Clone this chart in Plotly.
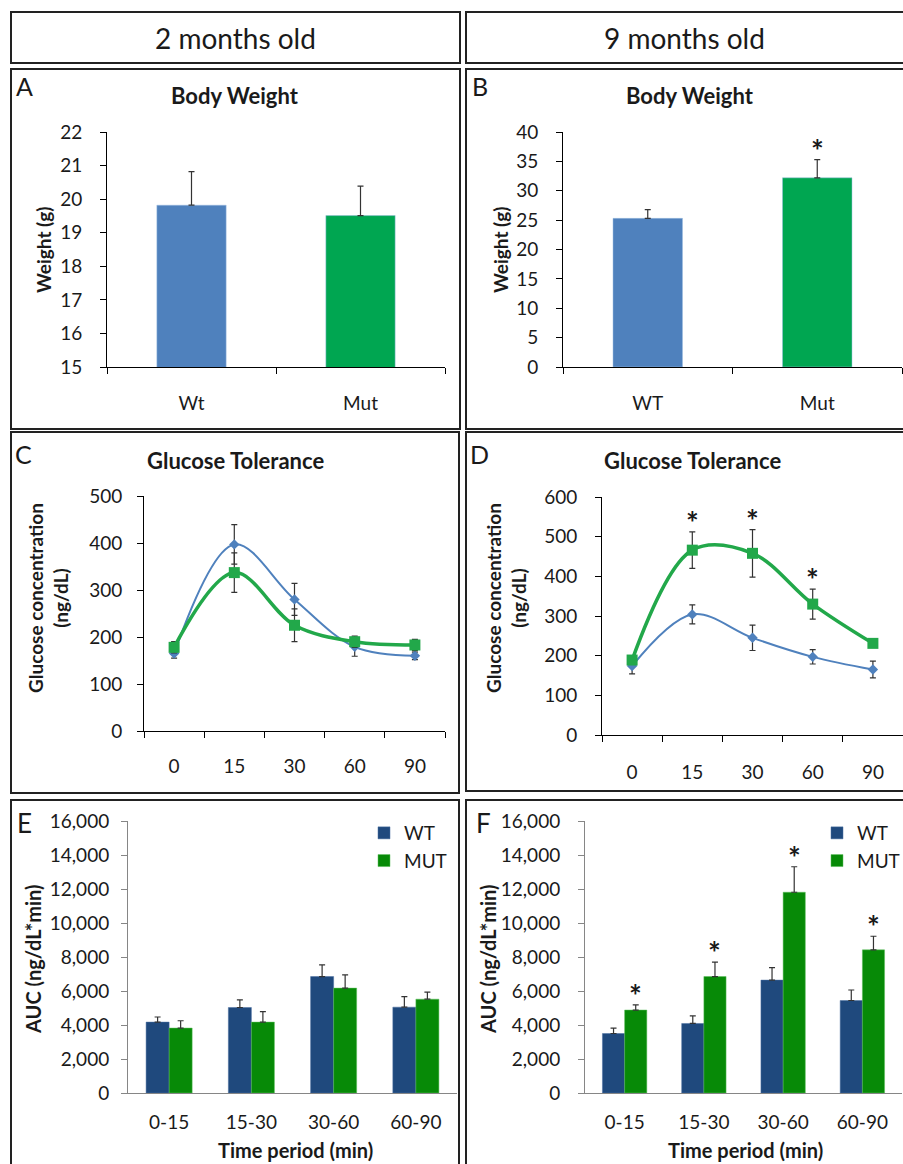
import plotly.graph_objects as go

# ---------------- data ----------------
groups_2mo = ["Wt", "Mut"]
weight_2mo = [19.82, 19.51]
weight_2mo_err = [1.0, 0.88]

groups_9mo = ["WT", "Mut"]
weight_9mo = [25.3, 32.2]
weight_9mo_err = [1.5, 3.1]

time_points = ["0", "15", "30", "60", "90"]
gtt_2mo_wt = [165, 397, 280, 179, 160]
gtt_2mo_wt_err = [10, 42, 34, 20, 8]
gtt_2mo_mut = [178, 337, 225, 190, 183]
gtt_2mo_mut_err = [12, 42, 35, 12, 12]
gtt_9mo_wt = [174, 304, 245, 197, 165]
gtt_9mo_wt_err = [20, 24, 32, 18, 21]
gtt_9mo_mut = [189, 466, 458, 330, 231]
gtt_9mo_mut_err = [10, 46, 60, 38, 8]
gtt_9mo_signif = [1, 2, 3]  # indices of time points marked with *

periods = ["0-15", "15-30", "30-60", "60-90"]
auc_2mo_wt = [4170, 5030, 6850, 5050]
auc_2mo_wt_err = [300, 450, 690, 620]
auc_2mo_mut = [3820, 4170, 6170, 5520]
auc_2mo_mut_err = [430, 620, 780, 410]
auc_9mo_wt = [3500, 4090, 6640, 5440]
auc_9mo_wt_err = [320, 450, 740, 620]
auc_9mo_mut = [4880, 6850, 11810, 8420]
auc_9mo_mut_err = [300, 850, 1500, 800]

# ---------------- styling ----------------
W, H = 903, 1164
FONT = "Lato"
TXT = "#1a1a1a"
BLUE_BW, GREEN_BW = "#4F81BD", "#00A651"
BLUE_L, GREEN_L = "#4F81BD", "#22A84A"
BLUE_AUC, GREEN_AUC = "#1F497D", "#078A07"
ERR = "#333333"


def xp(px):
    return px / W


def yp(py):
    return 1 - py / H


fig = go.Figure()

# ---- A: body weight 2 months
fig.add_trace(go.Bar(x=groups_2mo, y=weight_2mo, width=0.41, offset=-0.205,
                     marker=dict(color=[BLUE_BW, GREEN_BW], line=dict(color="#9DBCE0", width=0.5)),
                     error_y=dict(type="data", array=weight_2mo_err, arrayminus=[0, 0], symmetric=False,
                                  color=ERR, thickness=1.2, width=3),
                     showlegend=False, xaxis="x", yaxis="y"))
# ---- B: body weight 9 months
fig.add_trace(go.Bar(x=groups_9mo, y=weight_9mo, width=0.41, offset=-0.205,
                     marker=dict(color=[BLUE_BW, GREEN_BW], line=dict(color="#9DBCE0", width=0.5)),
                     error_y=dict(type="data", array=weight_9mo_err, arrayminus=[0, 0], symmetric=False,
                                  color=ERR, thickness=1.2, width=3),
                     showlegend=False, xaxis="x2", yaxis="y2"))

# ---- C / D: glucose tolerance
for (wt, wte, mut, mute, xa, ya) in [
    (gtt_2mo_wt, gtt_2mo_wt_err, gtt_2mo_mut, gtt_2mo_mut_err, "x3", "y3"),
    (gtt_9mo_wt, gtt_9mo_wt_err, gtt_9mo_mut, gtt_9mo_mut_err, "x4", "y4"),
]:
    fig.add_trace(go.Scatter(x=time_points, y=wt, mode="lines+markers",
                             line=dict(color=BLUE_L, width=2, shape="spline"),
                             marker=dict(symbol="diamond", size=8, color=BLUE_L),
                             error_y=dict(type="data", array=wte, color=ERR, thickness=1.2, width=3),
                             showlegend=False, xaxis=xa, yaxis=ya))
    fig.add_trace(go.Scatter(x=time_points, y=mut, mode="lines+markers",
                             line=dict(color=GREEN_L, width=3.5, shape="spline"),
                             marker=dict(symbol="square", size=11, color=GREEN_L),
                             error_y=dict(type="data", array=mute, color=ERR, thickness=1.2, width=3),
                             showlegend=False, xaxis=xa, yaxis=ya))

# ---- E / F: AUC
for (wt, wte, mut, mute, xa, ya, lg) in [
    (auc_2mo_wt, auc_2mo_wt_err, auc_2mo_mut, auc_2mo_mut_err, "x5", "y5", "legend"),
    (auc_9mo_wt, auc_9mo_wt_err, auc_9mo_mut, auc_9mo_mut_err, "x6", "y6", "legend2"),
]:
    fig.add_trace(go.Bar(x=periods, y=wt, name="WT", width=0.28, offset=-0.28,
                         marker=dict(color=BLUE_AUC, line=dict(color="#4A6FA0", width=0.5)),
                         error_y=dict(type="data", array=wte, arrayminus=[0] * 4, symmetric=False,
                                      color=ERR, thickness=1.2, width=3),
                         xaxis=xa, yaxis=ya, legend=lg))
    fig.add_trace(go.Bar(x=periods, y=mut, name="MUT", width=0.28, offset=0,
                         marker=dict(color=GREEN_AUC, line=dict(color="#5CBF5C", width=0.5)),
                         error_y=dict(type="data", array=mute, arrayminus=[0] * 4, symmetric=False,
                                      color=ERR, thickness=1.2, width=3),
                         xaxis=xa, yaxis=ya, legend=lg))

# ---------------- axes ----------------
tickfont = dict(family=FONT, size=19, color=TXT)


def yax(dom_px_x, dom_px_y, rng, dtick, standoff, linecolor="#000000", fmt=None, anchor=None):
    d = dict(domain=[yp(dom_px_y[1]), yp(dom_px_y[0])], range=rng, dtick=dtick,
             showgrid=False, zeroline=False, showline=True, linecolor=linecolor, linewidth=1,
             ticks="outside", ticklen=6, tickcolor=linecolor, tickfont=tickfont,
             ticklabelstandoff=standoff, anchor=anchor, automargin=False)
    if fmt:
        d["tickformat"] = fmt
    return d


def xax(dom_px_x, n, standoff, ticks=True, linecolor="#000000", anchor=None):
    d = dict(domain=[xp(dom_px_x[0]), xp(dom_px_x[1])], range=[-0.5, n - 0.5], type="category",
             showgrid=False, zeroline=False, showline=True, linecolor=linecolor, linewidth=1,
             tickfont=tickfont, ticklabelstandoff=standoff, anchor=anchor, automargin=False)
    if ticks:
        d.update(ticks="outside", ticklen=6, tickcolor=linecolor, tickson="boundaries")
    else:
        d.update(ticks="")
    return d


dom = {
    "A": ((107, 445), (132, 367)),
    "B": ((563, 902), (132, 367)),
    "C": ((144, 445), (496, 731)),
    "D": ((602, 903), (497, 735)),
    "E": ((128, 457), (821, 1093)),
    "F": ((585, 902), (821, 1093)),
}

fig.update_layout(
    xaxis=xax(dom["A"][0], 2, 19, anchor="y"),
    yaxis=yax(*dom["A"], [15, 22], 1, 14, anchor="x"),
    xaxis2=xax(dom["B"][0], 2, 19, anchor="y2"),
    yaxis2=yax(*dom["B"], [0, 40], 5, 14, anchor="x2"),
    xaxis3=xax(dom["C"][0], 5, 18, anchor="y3"),
    yaxis3=yax(*dom["C"], [0, 500], 100, 11, anchor="x3"),
    xaxis4=xax(dom["D"][0], 5, 20, anchor="y4"),
    yaxis4=yax(*dom["D"], [0, 600], 100, 14, anchor="x4"),
    xaxis5=xax(dom["E"][0], 4, 12, ticks=False, linecolor="#868686", anchor="y5"),
    yaxis5=yax(*dom["E"], [0, 16000], 2000, 8, linecolor="#868686", fmt=",", anchor="x5"),
    xaxis6=xax(dom["F"][0], 4, 12, ticks=False, linecolor="#868686", anchor="y6"),
    yaxis6=yax(*dom["F"], [0, 16000], 2000, 14, linecolor="#868686", fmt=",", anchor="x6"),
)

# ---------------- frames ----------------
shapes = []
for (x0, x1, y0, y1) in [(11, 460, 12, 63), (466, 910, 12, 63),
                         (11, 460, 69, 429), (466, 910, 69, 429),
                         (11, 459, 432, 793), (466, 910, 432, 791),
                         (11, 459, 800, 1175), (466, 910, 800, 1175)]:
    shapes.append(dict(type="rect", xref="paper", yref="paper",
                       x0=xp(x0), x1=xp(x1), y0=yp(y1), y1=yp(y0),
                       line=dict(color="#222222", width=2), fillcolor="rgba(0,0,0,0)", layer="below"))

# ---------------- annotations ----------------
ann = []


def text(x, y, s, size, bold=False, angle=0, xanchor="center", yanchor="middle"):
    ann.append(dict(xref="paper", yref="paper", x=xp(x), y=yp(y), text=f"<b>{s}</b>" if bold else s,
                    showarrow=False, textangle=angle, xanchor=xanchor, yanchor=yanchor,
                    font=dict(family=FONT, size=size, color=TXT)))


text(235.5, 38, "2 months old", 28)
text(684, 38, "9 months old", 28)
for lbl, x, y in [("A", 14, 86), ("B", 470, 86), ("C", 13, 454), ("D", 468, 454), ("E", 15, 823), ("F", 474, 823)]:
    text(x, y, lbl, 26 if lbl in "EF" else 25, xanchor="left")
text(235, 95, "Body Weight", 22, bold=True)
text(690, 95, "Body Weight", 22, bold=True)
text(235, 461, "Glucose Tolerance", 22, bold=True)
text(692, 461, "Glucose Tolerance", 22, bold=True)
text(43, 250, "Weight (g)", 19, bold=True, angle=-90)
text(500, 250, "Weight (g)", 19, bold=True, angle=-90)
text(48, 598, "Glucose concentration<br>(ng/dL)", 19, bold=True, angle=-90)
text(506, 598, "Glucose concentration<br>(ng/dL)", 19, bold=True, angle=-90)
text(33, 960, "AUC (ng/dL*min)", 20, bold=True, angle=-90)
text(488, 960, "AUC (ng/dL*min)", 20, bold=True, angle=-90)
text(295, 1150, "Time period (min)", 20, bold=True)
text(745, 1150, "Time period (min)", 20, bold=True)

# significance asterisks (anchored to data)
STAR = dict(family=FONT, size=30, color=TXT)


def star(xa, ya, x, y, xshift=0):
    ann.append(dict(xref=xa, yref=ya, x=x, y=y, xshift=xshift, text="<b>*</b>", showarrow=False,
                    yanchor="middle", yshift=10, font=STAR))


star("x2", "y2", groups_9mo[1], weight_9mo[1] + weight_9mo_err[1])
for i in gtt_9mo_signif:
    # category axis: numeric-looking labels are addressed by index
    star("x4", "y4", i, gtt_9mo_mut[i] + gtt_9mo_mut_err[i])
for i in range(4):
    star("x6", "y6", periods[i], auc_9mo_mut[i] + auc_9mo_mut_err[i], xshift=0.14 * 79.3)

legend_style = dict(font=dict(family=FONT, size=19, color=TXT), bgcolor="rgba(0,0,0,0)",
                    xanchor="left", yanchor="top", tracegroupgap=0, itemwidth=30)

fig.update_layout(
    width=W, height=H, margin=dict(l=0, r=0, t=0, b=0, autoexpand=False),
    paper_bgcolor="white", plot_bgcolor="white",
    shapes=shapes, annotations=ann,
    legend=dict(x=xp(364), y=yp(814), **legend_style),
    legend2=dict(x=xp(817), y=yp(814), **legend_style),
    font=dict(family=FONT, color=TXT),
)

post = ("document.body.style.margin='0';document.body.style.overflow='hidden';"
        "var gd=document.getElementById('{plot_id}');gd.style.position='absolute';"
        "gd.style.top='0px';gd.style.left='0px';")
fig.write_html("out.html", post_script=post, config={"displayModeBar": False})
